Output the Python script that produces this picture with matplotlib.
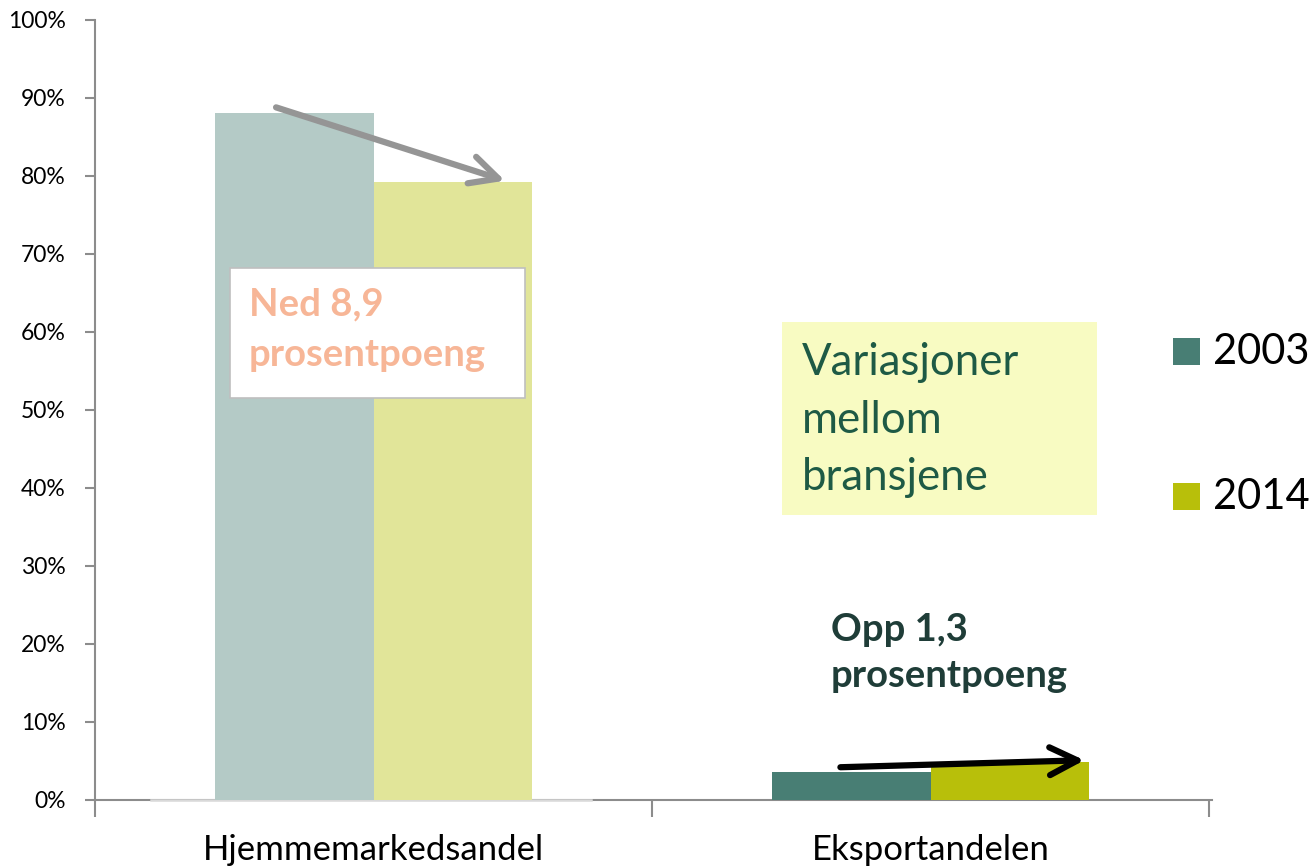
import matplotlib
matplotlib.use("Agg")
import matplotlib.pyplot as plt
from matplotlib.patches import Rectangle
import numpy as np

categories = ["Hjemmemarkedsandel", "Eksportandelen"]
series_names = ["2003", "2014"]
values_2003 = [88.1, 3.6]
values_2014 = [79.2, 4.9]
yticks = [0, 10, 20, 30, 40, 50, 60, 70, 80, 90, 100]

col_2003 = ["#B4CAC6", "#487E74"]
col_2014 = ["#E1E599", "#B8BF0A"]

FONT = "Lato"
W, H = 1313, 866
fig = plt.figure(figsize=(W / 100, H / 100), dpi=100)
ax = fig.add_axes([95 / W, (H - 800) / H, (1212 - 95) / W, 780 / H])

x = np.arange(len(categories))
bw = 0.285
ax.bar(x - bw / 2, values_2003, bw, color=col_2003, zorder=2)
ax.bar(x + bw / 2, values_2014, bw, color=col_2014, zorder=2)

ax.set_xlim(-0.5, 1.505)
ax.set_ylim(0, 100)
ax.set_yticks(yticks)
ax.set_yticklabels([f"{t}%" for t in yticks], fontsize=16.5, fontfamily=FONT)
ax.set_xticks([-0.5, 0.5, 1.5])
ax.set_xticklabels([])
for i, c in enumerate(categories):
    ax.text(x[i], -4.4, c, ha="center", va="top", fontsize=25, fontfamily=FONT)

for s in ["top", "right"]:
    ax.spines[s].set_visible(False)
for s in ["left", "bottom"]:
    ax.spines[s].set_color("#8C8C8C")
    ax.spines[s].set_linewidth(1.5)
ax.tick_params(axis="y", length=7, width=1.5, color="#8C8C8C", pad=14)
ax.tick_params(axis="x", length=12, width=1.5, color="#8C8C8C")
ax.spines["bottom"].set_zorder(1)

# lighter baseline under faded category
ax.plot([-0.4, 0.39], [0, 0], color="#D9D9D9", lw=1.8, zorder=1.5, clip_on=False)

# arrows
ax.annotate("", xy=(x[0] + 0.236, values_2014[0] + 0.2),
            xytext=(x[0] - 0.175, values_2003[0] + 0.7),
            arrowprops=dict(arrowstyle="->,head_length=1.0,head_width=0.5",
                            color="#959595", lw=4.5, mutation_scale=20,
                            shrinkA=0, shrinkB=0), zorder=4)
ax.annotate("", xy=(x[1] + 0.276, values_2014[1] + 0.2),
            xytext=(x[1] - 0.162, values_2003[1] + 0.6),
            arrowprops=dict(arrowstyle="->,head_length=1.0,head_width=0.5",
                            color="black", lw=4.5, mutation_scale=20,
                            shrinkA=0, shrinkB=0), zorder=4)

def px(xp, yp):
    return xp / W, 1 - yp / H

r1 = Rectangle(px(230, 398), 295 / W, 130 / H, transform=fig.transFigure,
               facecolor="white", edgecolor="#BFBFBF", lw=1.2, zorder=5)
fig.add_artist(r1)
fig.text(*px(249, 330), "Ned 8,9\nprosentpoeng", fontsize=27.5, fontweight="bold",
         color="#F7B697", fontfamily=FONT, va="center", ha="left",
         linespacing=1.6, zorder=6)

r2 = Rectangle(px(782, 515), 315 / W, 193 / H, transform=fig.transFigure,
               facecolor="#F8FBC2", edgecolor="none", zorder=5)
fig.add_artist(r2)
fig.text(*px(802, 420), "Variasjoner\nmellom\nbransjene", fontsize=31.5,
         color="#1E5A45", fontfamily=FONT, va="center", ha="left",
         linespacing=1.5, zorder=6)

fig.text(*px(831, 653), "Opp 1,3\nprosentpoeng", fontsize=27.5, fontweight="bold",
         color="#1F3D38", fontfamily=FONT, va="center", ha="left",
         linespacing=1.4, zorder=6)

for name, col, yp in [(series_names[0], col_2003[1], 352), (series_names[1], col_2014[1], 497)]:
    fig.add_artist(Rectangle(px(1173, yp + 13), 27 / W, 27 / H,
                             transform=fig.transFigure, facecolor=col, edgecolor="none"))
    fig.text(*px(1213, yp), name, fontsize=30, fontfamily=FONT, va="center", ha="left")

fig.savefig("out.png", dpi=100)
